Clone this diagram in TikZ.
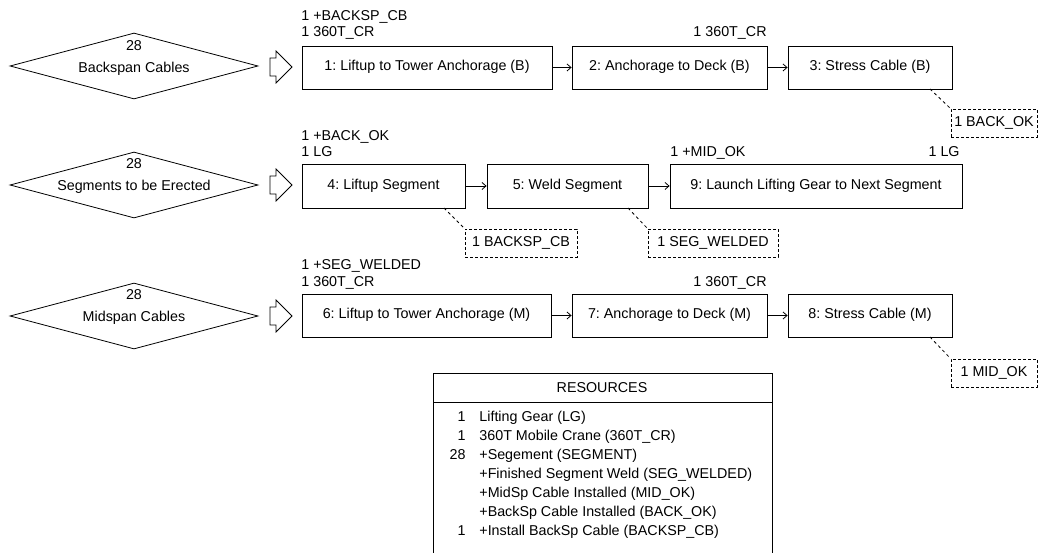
\documentclass[tikz,border=0pt]{standalone}
\usepackage{fontspec}
\setmainfont{Liberation Sans}
\usetikzlibrary{arrows.meta,shapes.geometric}
\frenchspacing
\begin{document}
\begin{tikzpicture}[x=1pt,y=-1pt,
  font=\fontsize{14.3}{15}\selectfont,
  line width=0.8pt,
  every node/.style={inner sep=0pt, text height=10pt, text depth=3pt},
  task/.style={draw, fill=white, minimum height=43pt},
  dbox/.style={draw, dash pattern=on 3pt off 2pt},
  pool/.style={draw, diamond, minimum width=248pt, minimum height=66pt, text height=0pt, text depth=0pt},
  lbl/.style={anchor=base west},
  rlbl/.style={anchor=base east},
  conn/.style={-{Straight Barb[length=4pt,width=7pt]}},
  dconn/.style={dash pattern=on 3pt off 3pt},
  fat/.style={draw, fill=white, line join=miter}
]
\frenchspacing
\useasboundingbox (0,0) rectangle (1039,553);

% ---------- Row 1 ----------
\node[pool] (d1) at (134,66) {};
\node[anchor=base] (d1n) at (134,51) {28};
\node[anchor=base] (d1t) at (134,73) {Backspan Cables};
\draw[fat] (270,58) -- (276,58) -- (276,51) -- (292,67) -- (276,83) -- (276,76) -- (270,76) -- cycle;

\node[task, minimum width=250pt] (b1) at (427,67.5) {1: Liftup to Tower Anchorage (B)};
\node[task, minimum width=195pt] (b2) at (669.5,67.5) {2: Anchorage to Deck (B)};
\node[task, minimum width=164pt] (b3) at (870,67.5) {3: Stress Cable (B)};
\node[lbl] (l1a) at (301,21) {1 +BACKSP\_CB};
\node[lbl] (l1b) at (301,37) {1 360T\_CR};
\node[rlbl] (l2a) at (767,37) {1 360T\_CR};
\draw[conn] (b1) -- (b2);
\draw[conn] (b2) -- (b3);
\node[dbox, minimum width=86pt, minimum height=28pt] (r1) at (994,123) {1 BACK\_OK};
\coordinate (c3) at (930,89);
\draw[dconn] (c3) -- (r1.north west);

% ---------- Row 2 ----------
\node[pool] (d2) at (134,185) {};
\node[anchor=base] (d2n) at (134,169) {28};
\node[anchor=base] (d2t) at (134,191) {Segments to be Erected};
\begin{scope}[yshift=-118pt]
\draw[fat] (270,58) -- (276,58) -- (276,51) -- (292,67) -- (276,83) -- (276,76) -- (270,76) -- cycle;
\end{scope}

\node[task, minimum width=163pt, minimum height=44pt] (b4) at (383.5,186) {4: Liftup Segment};
\node[task, minimum width=161pt, minimum height=44pt] (b5) at (567.5,186) {5: Weld Segment};
\node[task, minimum width=292pt, minimum height=44pt] (b9) at (816,186) {9: Launch Lifting Gear to Next Segment};
\node[lbl] (l4a) at (301,141) {1 +BACK\_OK};
\node[lbl] (l4b) at (301,157) {1 LG};
\node[lbl] (l9a) at (670,157) {1 +MID\_OK};
\node[rlbl] (l9b) at (960,157) {1 LG};
\draw[conn] (b4) -- (b5);
\draw[conn] (b5) -- (b9);
\node[dbox, minimum width=112pt, minimum height=28pt] (r4) at (521,243) {1 BACKSP\_CB};
\node[dbox, minimum width=130pt, minimum height=28pt] (r5) at (713,243) {1 SEG\_WELDED};
\coordinate (c4) at (444,208);
\coordinate (c5) at (628,208);
\draw[dconn] (c4) -- (r4.north west);
\draw[dconn] (c5) -- (r5.north west);

% ---------- Row 3 ----------
\node[pool] (d3) at (134,316) {};
\node[anchor=base] (d3n) at (134,300) {28};
\node[anchor=base] (d3t) at (134,322) {Midspan Cables};
\begin{scope}[yshift=-249pt]
\draw[fat] (270,58) -- (276,58) -- (276,51) -- (292,67) -- (276,83) -- (276,76) -- (270,76) -- cycle;
\end{scope}

\node[task, minimum width=249pt] (b6) at (426.5,315.5) {6: Liftup to Tower Anchorage (M)};
\node[task, minimum width=195pt] (b7) at (669.5,315.5) {7: Anchorage to Deck (M)};
\node[task, minimum width=164pt] (b8) at (870,315.5) {8: Stress Cable (M)};
\node[lbl] (l6a) at (301,270) {1 +SEG\_WELDED};
\node[lbl] (l6b) at (301,287) {1 360T\_CR};
\node[rlbl] (l7a) at (767,287) {1 360T\_CR};
\draw[conn] (b6) -- (b7);
\draw[conn] (b7) -- (b8);
\node[dbox, minimum width=86pt, minimum height=28pt] (r8) at (994,373) {1 MID\_OK};
\coordinate (c8) at (930,337);
\draw[dconn] (c8) -- (r8.north west);

% ---------- Resources ----------
\draw (433,560) -- (433,373) -- (772,373) -- (772,560);
\draw (433,402) -- (772,402);
\node[anchor=base] (rh) at (602,392) {RESOURCES};
\foreach \n/\t/\y [count=\i] in {1/Lifting Gear (LG)/421,
  1/360T Mobile Crane (360T\_CR)/440,
  28/+Segement (SEGMENT)/459,
  /+Finished Segment Weld (SEG\_WELDED)/478,
  /+MidSp Cable Installed (MID\_OK)/497,
  /+BackSp Cable Installed (BACK\_OK)/516,
  1/+Install BackSp Cable (BACKSP\_CB)/535}{
  \node[rlbl] (rn\i) at (466,\y) {\n};
  \node[lbl] (rt\i) at (479,\y) {\t};
}
\end{tikzpicture}
\end{document}
